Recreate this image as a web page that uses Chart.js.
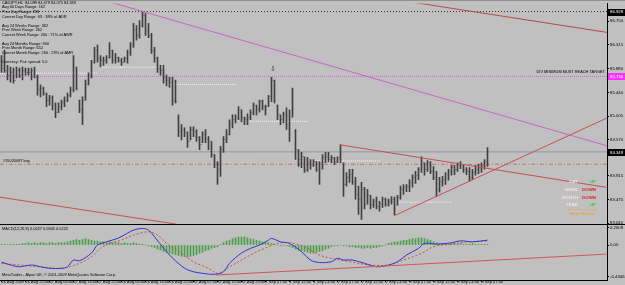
<!DOCTYPE html>
<html><head><meta charset="utf-8">
<script src="https://cdn.jsdelivr.net/npm/chart.js@4.4.0/dist/chart.umd.min.js"></script>
<style>html,body{margin:0;padding:0;background:#c0c0c0;overflow:hidden}</style>
</head><body>
<canvas id="c" width="625" height="285"></canvas>
<script>
// ---------- DATA ----------
const xTickLabels = ['26 Aug 2009','26 Aug 22:00','27 Aug 06:00','27 Aug 14:00','27 Aug 22:00','28 Aug 06:00','28 Aug 14:00','28 Aug 22:00','31 Aug 07:00','31 Aug 15:00','31 Aug 23:00','1 Sep 07:00','1 Sep 15:00','1 Sep 23:00','2 Sep 07:00','2 Sep 15:00','2 Sep 23:00','3 Sep 07:00','3 Sep 15:00','3 Sep 23:00','4 Sep 07:00'];
const priceTickLabels = ['86.750','86.535','86.315','86.095','85.880','85.660','85.440','85.225','85.005','84.785','84.570','84.130','83.915','83.695','83.475','83.260','83.040'];
const macdTickLabels = ['0.2609','0.00','-0.4346'];

const barHigh = [86.12,86.22,85.94,85.91,85.89,85.91,85.89,85.91,85.89,85.89,85.89,85.91,85.76,85.58,85.54,85.43,85.39,85.38,85.25,85.25,
85.30,85.36,85.43,85.54,86.12,85.91,85.30,85.36,85.67,85.80,86.03,86.27,86.31,86.12,86.09,86.12,86.36,86.22,86.16,86.09,
86.07,86.09,86.22,86.36,86.71,86.67,86.76,86.93,86.89,86.71,86.53,86.27,86.09,85.94,85.94,85.76,85.72,85.72,85.67,85.03,
84.85,84.79,84.72,84.81,84.81,84.76,84.63,84.72,84.76,84.63,84.54,84.30,84.17,84.45,84.63,84.76,84.94,85.03,85.03,85.18,
85.12,84.99,85.05,85.12,85.25,85.21,85.30,85.30,85.21,85.39,85.72,85.67,85.21,85.03,85.08,85.16,85.12,85.52,84.76,84.39,
84.34,84.26,84.25,84.21,84.21,84.17,84.17,84.30,84.34,84.34,84.28,84.25,84.26,84.48,84.15,83.97,84.03,84.03,83.88,83.72,
83.79,83.70,83.66,83.55,83.48,83.52,83.44,83.52,83.50,83.48,83.53,83.52,83.55,83.72,83.75,83.75,83.84,83.93,83.99,84.06,
84.26,84.15,84.19,84.17,84.08,83.99,83.88,83.90,83.97,84.03,84.10,84.10,84.15,84.17,84.10,84.06,84.06,84.03,84.10,84.12,
84.15,84.21,84.43];
const barLow = [85.81,85.81,85.67,85.63,85.61,85.71,85.72,85.67,85.76,85.76,85.67,85.71,85.39,85.36,85.39,85.18,85.21,85.12,84.98,85.07,
85.12,85.18,85.27,85.36,85.45,85.49,85.07,84.85,85.30,85.58,85.71,85.98,86.00,85.91,85.94,85.98,86.07,85.98,85.98,86.00,
85.94,86.00,85.98,86.12,86.27,86.40,86.44,86.64,86.49,86.45,86.16,86.00,85.81,85.76,85.61,85.56,85.54,85.21,85.25,84.63,
84.57,84.63,84.43,84.57,84.63,84.54,84.39,84.52,84.52,84.39,84.25,84.06,83.75,83.90,84.34,84.52,84.66,84.79,84.88,84.94,
84.90,84.85,84.85,84.94,85.03,85.03,85.08,85.12,85.03,85.18,85.27,85.25,84.94,84.85,84.88,84.76,84.54,84.99,84.21,84.08,
84.06,83.97,83.99,84.03,84.08,83.99,83.75,84.03,84.15,84.17,84.15,84.12,84.15,84.15,83.53,83.72,83.79,83.75,83.48,83.20,
83.11,83.30,83.39,83.30,83.33,83.30,83.26,83.33,83.35,83.35,83.39,83.19,83.37,83.48,83.57,83.62,83.62,83.70,83.77,83.84,
83.97,83.92,83.99,83.95,83.84,83.53,83.61,83.72,83.75,83.83,83.92,83.93,83.99,84.04,83.97,83.93,83.81,83.84,83.92,83.95,
83.97,84.03,84.08];
const barOpen = [86.03,85.89,85.85,85.76,85.81,85.67,85.85,85.76,85.85,85.81,85.80,85.85,85.72,85.49,85.52,85.43,85.30,85.34,85.21,85.08,
85.19,85.25,85.30,85.39,85.49,85.90,85.30,85.12,85.30,85.58,85.76,86.00,86.22,86.07,86.03,86.03,86.09,86.22,86.03,86.09,
86.03,86.00,86.07,86.18,86.31,86.58,86.49,86.67,86.85,86.58,86.49,86.22,86.07,85.89,85.85,85.71,85.67,85.63,85.30,84.98,
84.72,84.76,84.70,84.54,84.76,84.72,84.61,84.48,84.66,84.57,84.54,84.30,84.12,84.03,84.39,84.57,84.66,84.88,84.94,84.98,
85.12,84.98,84.94,84.99,85.08,85.21,85.12,85.27,85.18,85.18,85.36,85.67,85.21,85.03,84.94,85.03,84.85,84.99,84.72,84.39,
84.21,84.26,84.03,84.15,84.12,84.17,84.03,84.12,84.25,84.26,84.21,84.25,84.17,84.25,84.12,83.75,83.88,83.93,83.81,83.57,
83.48,83.66,83.39,83.55,83.39,83.44,83.35,83.40,83.48,83.39,83.44,83.48,83.37,83.52,83.66,83.70,83.72,83.79,83.88,83.92,
84.03,84.15,84.03,84.15,83.99,83.88,83.66,83.81,83.84,83.93,83.99,84.06,84.03,84.12,84.10,84.03,83.99,83.88,83.97,84.03,
84.06,84.10,84.17];
const barClose = [85.89,85.85,85.76,85.81,85.67,85.85,85.76,85.85,85.81,85.80,85.85,85.72,85.49,85.52,85.43,85.30,85.34,85.21,85.08,85.19,
85.25,85.30,85.39,85.49,85.94,85.52,85.12,85.30,85.58,85.76,86.00,86.22,86.07,86.03,86.03,86.09,86.22,86.03,86.09,86.03,
86.00,86.07,86.18,86.31,86.58,86.49,86.67,86.85,86.58,86.49,86.22,86.07,85.89,85.85,85.71,85.67,85.63,85.30,85.27,84.72,
84.76,84.70,84.54,84.76,84.72,84.61,84.48,84.66,84.57,84.54,84.30,84.12,84.03,84.39,84.57,84.66,84.88,84.94,84.98,85.12,
84.98,84.94,84.99,85.08,85.21,85.12,85.27,85.18,85.16,85.36,85.67,85.30,85.03,84.94,85.03,84.85,84.66,85.12,84.39,84.21,
84.26,84.03,84.15,84.12,84.17,84.03,84.12,84.25,84.26,84.21,84.25,84.17,84.25,84.21,83.75,83.88,83.93,83.81,83.57,83.48,
83.66,83.39,83.57,83.39,83.44,83.35,83.40,83.48,83.39,83.44,83.48,83.30,83.52,83.66,83.70,83.72,83.79,83.88,83.92,84.03,
84.17,84.03,84.15,83.99,83.88,83.66,83.81,83.84,83.93,83.99,84.06,84.03,84.12,84.12,84.03,83.99,83.88,83.97,84.03,84.06,
84.10,84.17,84.349];

const macdHist = [0.01,0.01,0.01,0.01,0.01,0.01,0.01,
0.02,0.02,0.03,0.02,0.03,0.02,0.03,0.03,0.02,0.03,0.03,0.02,0.03,0.03,
0.03,0.04,0.05,0.06,0.07,0.06,0.07,0.08,0.07,0.06,0.05,0.05,
0.04,0.04,0.03,0.04,0.03,0.03,0.03,0.02,0.03,0.02,0.02,0.03,0.02,0.01,0.01,
0.00,-0.01,-0.02,-0.03,-0.05,
-0.06,-0.08,-0.09,-0.10,-0.11,-0.12,-0.13,-0.14,-0.14,-0.15,-0.14,-0.13,-0.12,-0.10,-0.09,-0.07,-0.06,-0.04,-0.03,-0.02,
0.01,0.03,0.05,0.06,0.08,0.09,0.10,0.10,0.10,0.09,0.08,0.07,0.06,0.05,0.04,0.03,0.03,0.02,
0.01,0.00,-0.01,0.00,-0.01,-0.02,
-0.03,-0.05,-0.06,-0.07,-0.08,-0.09,-0.10,-0.10,-0.09,-0.08,-0.07,-0.05,-0.04,-0.02,
-0.01,-0.01,0.00,-0.01,-0.01,-0.02,-0.02,
-0.03,-0.03,-0.04,-0.04,-0.03,-0.04,-0.03,-0.03,-0.02,-0.01,0.00,
0.02,0.03,0.04,0.04,0.05,0.06,0.06,0.07,0.08,
0.08,0.09,0.09,0.08,0.07,0.06,0.04,0.03,
0.02,0.02,0.02,0.01,0.02,0.02,0.01,0.02,0.01,0.01,0.01,0.02,0.01,0.01,0.01,0.01,0.01];

const macdBar = [0,3,6,10,13,16,20,22,24,26,30,32,35,39,42,44,47,49,51,54,57,61,64,67,71,74,76,80,83,86,89,90,93,96,100,103,106,110,112,114,117,121,125,129,132,135,139,141,145,150,153,157,162];
const macdMain = [-0.211,-0.248,-0.270,-0.248,-0.270,-0.289,-0.289,-0.270,-0.186,-0.195,-0.099,0.000,0.041,0.087,0.149,0.186,0.207,0.186,0.103,-0.037,-0.161,-0.286,-0.332,-0.351,-0.364,-0.332,-0.227,-0.099,-0.041,0.000,0.062,0.083,0.041,0.021,-0.083,-0.186,-0.217,-0.207,-0.165,-0.186,-0.186,-0.227,-0.270,-0.248,-0.207,-0.124,-0.041,0.021,0.012,0.029,0.053,0.041,0.062];
const signalBar = [0,6,13,20,26,30,33,36,40,44,49,52,55,60,64,69,72,76,80,84,89,92,96,101,106,110,116,123,129,134,140,144,150,155,162];
const signalVal = [-0.227,-0.248,-0.270,-0.289,-0.227,-0.145,-0.041,0.021,0.062,0.124,0.165,0.124,0.021,-0.103,-0.207,-0.289,-0.351,-0.270,-0.186,-0.103,-0.021,0.021,0.029,-0.021,-0.124,-0.165,-0.207,-0.248,-0.248,-0.186,-0.103,-0.021,0.012,0.037,0.050];

// trend lines (bar index / price)
const trendFromBar  = [33.8, 133.5, 131, 113, -0.5];
const trendFromPrice= [87.141, 87.13, 83.179, 84.478, 83.517];
const trendToBar    = [201.8, 201.8, 201.8, 201.8, 58.3];
const trendToPrice  = [84.461, 86.546, 84.971, 83.696, 83.021];
// MACD divergence line
const macdLineBar = [71.5, 201.8];
const macdLineVal = [-0.373, -0.112];

// horizontal levels
const levelPrice = [86.928, 85.736, 84.349, 84.122];
const levelBoxText = ['86.928', '85.736', '84.349'];
// white dotted day lines
const dayFrom = [-0.5, 32.8, 56.2, 82.8, 103.8, 131.8];
const dayTo   = [31.8, 54.5, 78.5, 102.2, 126.2, 150.2];
const dayPrice= [85.796, 85.906, 85.589, 84.911, 84.183, 83.425];

const infoLines = ['CADJPY,H1  84.099 84.479 84.075 84.349','Avg 60 Days Range: 162','Prev Day Range: 258','Current Day Range: 63 : 38% of ADR','','Avg 24 Weeks Range: 362','Prev Week Range: 262','Current Week Range: 260 : 71% of AWR','','Avg 24 Months Range: 900','Prev Month Range: 652','Current Month Range: 260 : 29% of AMR','','Currency: Pair spread: 5.0'];
const trendNames = ['DAY','WEEK','MONTH','YEAR'];
const trendStates = ['UP','DOWN','DOWN','UP'];
const arrowBar = 90.5, arrowPrice = 85.864;

// ---------- STYLE ----------
const FONT = '"Liberation Sans", Arial, sans-serif';
const BG = '#c0c0c0';
const BAR = '#404040';
const TICK = '#7c7c7c';
const X_MIN = -0.5, X_MAX = -0.5 + 607/3;

function tickImg(left){
  const c = document.createElement('canvas'); c.width = 3; c.height = 1;
  const g = c.getContext('2d'); g.fillStyle = TICK; g.fillRect(left ? 0 : 2, 0, 1, 1); return c;
}
const openImg = tickImg(true), closeImg = tickImg(false);

const datasets = [];
datasets.push({type:'bar', yAxisID:'y', order:5, data: barHigh.map((h,i)=>({x:i, y:[barLow[i], h]})),
  backgroundColor: BAR, borderWidth:0, barThickness:1, grouped:false});
datasets.push({type:'line', yAxisID:'y', order:4, showLine:false, data: barOpen.map((v,i)=>({x:i,y:v})), pointStyle: openImg, pointRadius:1});
datasets.push({type:'line', yAxisID:'y', order:4, showLine:false, data: barClose.map((v,i)=>({x:i,y:v})), pointStyle: closeImg, pointRadius:1});
datasets.push({type:'bar', yAxisID:'y2', order:6, data: macdHist.map((v,i)=>({x:i,y:v})), backgroundColor:'#4a9e48', barThickness:1, grouped:false});
datasets.push({type:'line', yAxisID:'y2', order:3, data: macdBar.map((b,k)=>({x:b,y:macdMain[k]})), borderColor:'#3434d0', borderWidth:1, pointRadius:0, tension:0.35});
datasets.push({type:'line', yAxisID:'y2', order:3, data: signalBar.map((b,k)=>({x:b,y:signalVal[k]})), borderColor:'#d04848', borderWidth:1, borderDash:[2,2], pointRadius:0, tension:0.35});
datasets.push({type:'line', yAxisID:'y2', order:2, data: macdLineBar.map((b,k)=>({x:b,y:macdLineVal[k]})), borderColor:'#d05858', borderWidth:1, pointRadius:0});
const trendColors = ['#c864c8','#b84848','#c85050','#c85050','#c85050'];
trendFromBar.forEach((b,k)=>datasets.push({type:'line', yAxisID:'y', order:1,
  data:[{x:b,y:trendFromPrice[k]},{x:trendToBar[k],y:trendToPrice[k]}], borderColor:trendColors[k], borderWidth:1, pointRadius:0}));
const levelStyles = [
  {c:'#303030', d:[1,2]}, {c:'#e060e0', d:[1,1]}, {c:'#8a97a6', d:[]}, {c:'#c07070', d:[4,2,1,2]}];
levelPrice.forEach((p,k)=>datasets.push({type:'line', yAxisID:'y', order:7,
  data:[{x:X_MIN,y:p},{x:X_MAX,y:p}], borderColor:levelStyles[k].c, borderDash:levelStyles[k].d, borderWidth:1, pointRadius:0}));
dayPrice.forEach((p,k)=>datasets.push({type:'line', yAxisID:'y', order:7,
  data:[{x:dayFrom[k],y:p},{x:dayTo[k],y:p}], borderColor:'#f4f4f4', borderDash:[1,1], borderWidth:1, pointRadius:0}));

const overlay = {
  id:'overlay',
  beforeDraw(chart){ const g=chart.ctx; g.save(); g.fillStyle=BG; g.fillRect(0,0,chart.width,chart.height); g.restore(); },
  afterDraw(chart){
    const g = chart.ctx, ys = chart.scales.y, y2 = chart.scales.y2, xs = chart.scales.x;
    g.save();
    g.fillStyle = '#000'; g.fillRect(0, Math.round(ys.bottom), chart.width, 1);
    g.fillStyle = '#909090'; g.fillRect(0, 0, chart.width, 1);
    g.font = '3.9px ' + FONT; g.fillStyle = '#000'; g.textBaseline = 'middle'; g.textAlign='left';
    infoLines.forEach((t,k)=>{ if(t) g.fillText(t, 2, 2.8 + 4.55*k); });
    g.fillText('#55020087 buy', 3, ys.getPixelForValue(levelPrice[3]) - 3.5);
    g.textAlign = 'right';
    g.fillText('DIV MINIMUM MUST REACH TARGET', 605, ys.getPixelForValue(levelPrice[1]) - 5);
    g.textAlign = 'left';
    g.fillText('MACD(12,26,9) 0.0627 0.0605 0.0222', 2, y2.top + 5);
    g.fillText('MetaTrader - Alpari UK, \u00a9 2001-2009 MetaQuotes Software Corp.', 2, y2.bottom - 5);
    g.font = '7px "DejaVu Sans"'; g.textAlign='center'; g.fillStyle='#303030';
    g.fillText('\u21e9', xs.getPixelForValue(arrowBar), ys.getPixelForValue(arrowPrice));
    g.font = 'bold 4.4px ' + FONT;
    const rows = [181.7,190,197.5,205];
    trendNames.forEach((n,k)=>{
      g.textAlign='right'; g.fillStyle='#f2e2e2'; g.fillText(n, 578, rows[k]);
      g.fillStyle = trendStates[k]==='UP' ? '#38c838' : '#d02828'; g.fillText(trendStates[k], 596, rows[k]);
    });
    g.fillStyle='#e8a040'; g.textAlign='center'; g.fillText('Main Moves', 582, 214);
    g.strokeStyle='#e8a040'; g.setLineDash([1,1]); g.beginPath(); g.moveTo(568,209.5); g.lineTo(597,209.5); g.stroke(); g.setLineDash([]);
    g.font = '4.3px ' + FONT; g.textAlign='left';
    const boxFill = ['#000','#ff30ff','#000'];
    levelBoxText.forEach((t,k)=>{
      const py = ys.getPixelForValue(levelPrice[k]);
      g.fillStyle = boxFill[k]; g.fillRect(608, Math.round(py)-3, 17, 7);
      g.fillStyle = '#fff'; g.fillText(t, 610, py+0.5);
    });
    g.restore();
  }
};

const tickFont = {family: FONT, size: 4.3};
new Chart(document.getElementById('c'), {
  type:'bar',
  data:{datasets},
  plugins:[overlay],
  options:{
    responsive:false, animation:false, devicePixelRatio:1, events:[],
    layout:{padding:{top:3,left:0,right:0,bottom:0}, autoPadding:false},
    plugins:{legend:{display:false}, tooltip:{enabled:false}},
    scales:{
      x:{type:'linear', min:X_MIN, max:X_MAX, offset:false, position:'bottom',
        grid:{display:true, offset:false, drawOnChartArea:false, drawTicks:true, tickLength:2, color:'#000'},
        border:{display:true, color:'#000'},
        ticks:{autoSkip:false, maxRotation:0, minRotation:0, align:'start', padding:-2.5, color:'#000', font:{family:FONT,size:4}, callback:(v,i)=>xTickLabels[i]},
        afterBuildTicks:s=>{ s.ticks = xTickLabels.map((_,k)=>({value:k*8})); },
        afterFit:s=>{ s.height = 5; }},
      y:{type:'linear', position:'right', stack:'panes', stackWeight:221, min:83.022, max:87.0746, offset:false,
        grid:{drawOnChartArea:false, tickLength:2, color:'#000'}, border:{display:true,color:'#000'},
        ticks:{padding:1, color:'#000', font:tickFont, callback:(v,i)=>priceTickLabels[i]},
        afterBuildTicks:s=>{ s.ticks = priceTickLabels.map(t=>({value:parseFloat(t)})); },
        afterFit:s=>{ s.width = 18; }},
      y2:{type:'linear', position:'right', stack:'panes', stackWeight:56, min:-0.4346, max:0.2609, offset:false,
        grid:{drawOnChartArea:false, tickLength:2, color:'#000'}, border:{display:true,color:'#000'},
        ticks:{padding:1, color:'#000', font:tickFont, callback:(v,i)=>macdTickLabels[i]},
        afterBuildTicks:s=>{ const u=(s.max-s.min)/56; s.ticks=[{value:s.max-3.5*u},{value:0},{value:s.min+3.5*u}]; },
        afterFit:s=>{ s.width = 18; }}
    }
  }
});
</script>
</body></html>
